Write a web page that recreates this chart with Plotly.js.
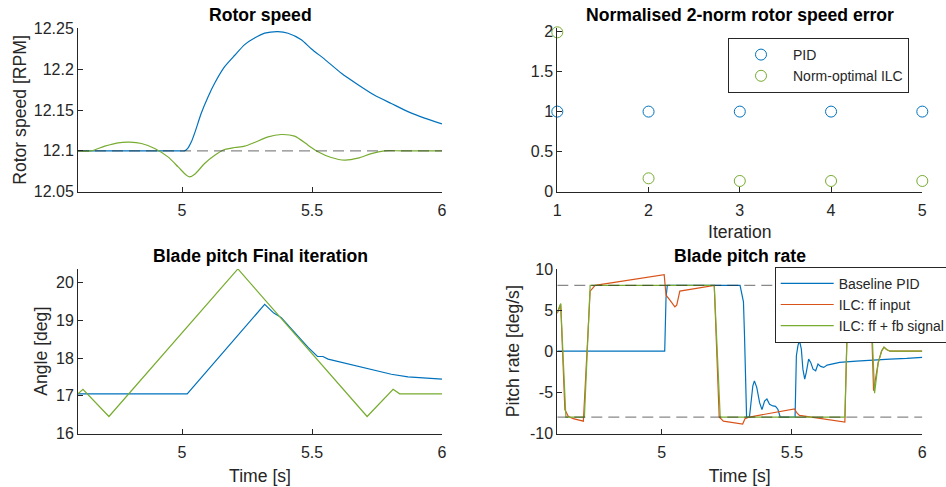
<!DOCTYPE html>
<html>
<head>
<meta charset="utf-8">
<script src="https://cdn.plot.ly/plotly-3.0.1.min.js"></script>
<style>html,body{margin:0;padding:0;background:#fff;}#chart{width:946px;height:487px;}</style>
</head>
<body>
<div id="chart"></div>
<script>
// ---------- Data ----------
// Rotor speed [RPM]
const rotorTimePID = [4.6, 4.9, 4.98, 5.010, 5.022, 5.036, 5.049, 5.074, 5.100, 5.126, 5.164, 5.203, 5.241, 5.279, 5.318, 5.369, 5.408, 5.459, 5.497, 5.549, 5.613, 5.677, 5.741, 5.805, 5.869, 5.933, 6.0];
const rotorPID     = [12.1, 12.1, 12.1, 12.1, 12.103, 12.111, 12.122, 12.146, 12.166, 12.183, 12.203, 12.217, 12.230, 12.238, 12.244, 12.246, 12.244, 12.236, 12.225, 12.212, 12.195, 12.181, 12.168, 12.158, 12.148, 12.140, 12.133];
const rotorTimeILC = [4.6, 4.651, 4.703, 4.754, 4.799, 4.844, 4.895, 4.946, 4.985, 5.017, 5.029, 5.049, 5.087, 5.126, 5.164, 5.203, 5.241, 5.279, 5.331, 5.382, 5.433, 5.485, 5.523, 5.574, 5.626, 5.677, 5.728, 5.779, 5.844, 6.0];
const rotorILC     = [12.1, 12.1, 12.1057, 12.1098, 12.1106, 12.109, 12.1029, 12.0926, 12.0804, 12.0702, 12.0681, 12.0714, 12.0845, 12.0946, 12.1016, 12.1041, 12.1057, 12.1102, 12.1172, 12.120, 12.118, 12.107, 12.0988, 12.0918, 12.0886, 12.091, 12.0967, 12.1, 12.1, 12.1];
const rotorRef = 12.1;

// Normalised 2-norm rotor speed error
const iterations = [1, 2, 3, 4, 5];
const normPID = [1, 1, 1, 1, 1];
const normILC = [1.99, 0.167, 0.134, 0.134, 0.134];

// Blade pitch angle [deg]
const pitchTimePID = [4.6, 5.02, 5.318, 5.353, 5.382, 5.433, 5.485, 5.521, 5.542, 5.562, 5.613, 5.677, 5.741, 5.805, 5.869, 6.0];
const pitchPID     = [17.05, 17.05, 19.42, 19.19, 19.07, 18.68, 18.28, 18.04, 18.04, 17.97, 17.89, 17.77, 17.67, 17.57, 17.50, 17.44];
const pitchTimeILC = [4.6, 4.619, 4.719, 5.215, 5.712, 5.812, 5.837, 6.0];
const pitchILC     = [17.05, 17.17, 16.45, 20.36, 16.45, 17.17, 17.05, 17.05];

// Blade pitch rate [deg/s]
const rateTimePID = [4.6, 5.012, 5.017, 5.022, 5.301, 5.307, 5.314, 5.318, 5.326, 5.337, 5.350, 5.356, 5.365, 5.376, 5.385, 5.395, 5.404, 5.414, 5.427, 5.437, 5.446, 5.455, 5.512, 5.517, 5.523, 5.529, 5.536, 5.542, 5.549, 5.555, 5.564, 5.572, 5.581, 5.591, 5.600, 5.610, 5.622, 5.635, 5.651, 5.683, 5.747, 5.812, 5.876, 5.940, 6.0];
const ratePID     = [0, 0, 6.5, 8, 8, 7.2, 6.0, 2, -8, -8, -4.2, -3.6, -4.4, -6.25, -7.1, -6.05, -5.8, -6.45, -6.65, -6.7, -7.05, -8, -8, -0.55, 0.67, 1.28, 0.26, -2.18, -3.4, -2.58, -0.96, -1.36, -2.18, -2.38, -1.57, -1.85, -1.97, -1.69, -1.57, -1.36, -1.2, -1.04, -0.96, -0.88, -0.76];
const rateTimeFF = [4.6, 4.613, 4.629, 4.642, 4.661, 4.700, 4.726, 4.733, 4.745, 5.010, 5.017, 5.032, 5.051, 5.058, 5.070, 5.202, 5.221, 5.237, 5.311, 5.320, 5.337, 5.510, 5.519, 5.529, 5.703, 5.716, 5.800, 5.813, 5.831, 5.844, 5.853, 5.863, 5.876, 6.0];
const rateFF     = [4.6, 5.7, -7.1, -7.9, -8.2, -8.5, 7.3, 7.6, 8.0, 9.3, 6.8, 6.2, 5.4, 5.6, 7.3, 8.0, -8.0, -8.5, -8.85, -8.2, -8.0, -7.0, -7.5, -7.8, -8.6, 8.0, 8.6, -4.8, -1.36, 0.06, 0.5, 0.2, 0.0, 0.0];
const rateTimeFB = [4.6, 4.613, 4.633, 4.704, 4.726, 5.202, 5.225, 5.703, 5.716, 5.800, 5.817, 5.831, 5.844, 5.853, 5.863, 5.876, 6.0];
const rateFB     = [4.7, 5.8, -8, -8, 8, 8, -8, -8, 8, 8, -5.1, -1.4, 0.0, 0.5, 0.2, 0.0, 0.0];
const rateLimit = 8;
const timeSpan = [4.6, 6];

// ---------- Style ----------
const FONT = '"Liberation Sans", Arial, Helvetica, sans-serif';
const BLUE = '#0072BD', ORANGE = '#D95319', GREEN = '#77AC30';
const DASH = 'rgba(38,38,38,0.55)';
const LW = 1.2;

const traces = [
  // Rotor speed
  {x: rotorTimePID, y: rotorPID, xaxis: 'x', yaxis: 'y', mode: 'lines', line: {color: BLUE, width: LW, shape: 'spline', smoothing: 0.6}, showlegend: false},
  {x: rotorTimeILC, y: rotorILC, xaxis: 'x', yaxis: 'y', mode: 'lines', line: {color: GREEN, width: LW, shape: 'spline', smoothing: 0.8}, showlegend: false},
  {x: timeSpan, y: [rotorRef, rotorRef], xaxis: 'x', yaxis: 'y', mode: 'lines', line: {color: DASH, width: 1.3, dash: '11px,6px'}, showlegend: false},
  // Norm error
  {x: iterations, y: normPID, xaxis: 'x2', yaxis: 'y2', mode: 'markers', name: 'PID', cliponaxis: false,
   marker: {symbol: 'circle-open', size: 11, color: BLUE, line: {width: 1, color: BLUE}}, legend: 'legend'},
  {x: iterations, y: normILC, xaxis: 'x2', yaxis: 'y2', mode: 'markers', name: 'Norm-optimal ILC', cliponaxis: false,
   marker: {symbol: 'circle-open', size: 11, color: GREEN, line: {width: 1, color: GREEN}}, legend: 'legend'},
  // Blade pitch
  {x: pitchTimePID, y: pitchPID, xaxis: 'x3', yaxis: 'y3', mode: 'lines', line: {color: BLUE, width: LW}, showlegend: false},
  {x: pitchTimeILC, y: pitchILC, xaxis: 'x3', yaxis: 'y3', mode: 'lines', line: {color: GREEN, width: LW}, showlegend: false},
  // Pitch rate
  {x: rateTimePID, y: ratePID, xaxis: 'x4', yaxis: 'y4', mode: 'lines', name: 'Baseline PID', line: {color: BLUE, width: LW}, legend: 'legend2'},
  {x: rateTimeFF, y: rateFF, xaxis: 'x4', yaxis: 'y4', mode: 'lines', name: 'ILC: ff input', line: {color: ORANGE, width: LW}, legend: 'legend2'},
  {x: rateTimeFB, y: rateFB, xaxis: 'x4', yaxis: 'y4', mode: 'lines', name: 'ILC: ff + fb signal', line: {color: GREEN, width: LW}, legend: 'legend2'},
  {x: timeSpan, y: [rateLimit, rateLimit], xaxis: 'x4', yaxis: 'y4', mode: 'lines', line: {color: DASH, width: 1.3, dash: '11px,6px'}, showlegend: false},
  {x: timeSpan, y: [-rateLimit, -rateLimit], xaxis: 'x4', yaxis: 'y4', mode: 'lines', line: {color: DASH, width: 1.3, dash: '11px,6px'}, showlegend: false}
];

const ax = {
  showline: true, linecolor: '#262626', linewidth: 1, mirror: false,
  ticks: 'inside', ticklen: 5, tickcolor: '#262626', tickwidth: 1,
  tickfont: {family: FONT, size: 16, color: '#262626'},
  showgrid: false, zeroline: false, fixedrange: true
};
const xax = Object.assign({}, ax, {ticklabelstandoff: 4});
const ttl = (t, s) => ({text: t, standoff: s, font: {family: FONT, size: 17.6, color: '#262626'}});

const LEFT = [78 / 946, 442 / 946];
const RIGHT = [557.3 / 946, 922.3 / 946];
const TOP = [1 - 191.7 / 487, 1 - 28.3 / 487];
const BOT = [1 - 433.5 / 487, 1 - 268.9 / 487];

const layout = {
  width: 946, height: 487,
  margin: {l: 0, r: 0, t: 0, b: 0, autoexpand: false},
  paper_bgcolor: '#fff', plot_bgcolor: 'rgba(0,0,0,0)',
  font: {family: FONT, color: '#262626'},
  xaxis: Object.assign({}, xax, {domain: LEFT, anchor: 'y', range: timeSpan, tickvals: [5, 5.5, 6], ticktext: ['5', '5.5', '6']}),
  yaxis: Object.assign({}, ax, {domain: TOP, anchor: 'x', range: [12.05, 12.25], tickvals: [12.05, 12.1, 12.15, 12.2, 12.25], ticktext: ['12.05', '12.1', '12.15', '12.2', '12.25'], title: ttl('Rotor speed [RPM]', 2)}),
  xaxis2: Object.assign({}, xax, {domain: RIGHT, anchor: 'y2', range: [1, 5], tickvals: [1, 2, 3, 4, 5], ticktext: ['1', '2', '3', '4', '5'], title: ttl('Iteration', 7)}),
  yaxis2: Object.assign({}, ax, {domain: TOP, anchor: 'x2', range: [0, 2.04], tickvals: [0, 0.5, 1, 1.5, 2], ticktext: ['0', '0.5', '1', '1.5', '2']}),
  xaxis3: Object.assign({}, xax, {domain: LEFT, anchor: 'y3', range: timeSpan, tickvals: [5, 5.5, 6], ticktext: ['5', '5.5', '6'], title: ttl('Time [s]', 9)}),
  yaxis3: Object.assign({}, ax, {domain: BOT, anchor: 'x3', range: [16, 20.36], tickvals: [16, 17, 18, 19, 20], ticktext: ['16', '17', '18', '19', '20'], title: ttl('Angle [deg]', 3)}),
  xaxis4: Object.assign({}, xax, {domain: RIGHT, anchor: 'y4', range: timeSpan, tickvals: [5, 5.5, 6], ticktext: ['5', '5.5', '6'], title: ttl('Time [s]', 9)}),
  yaxis4: Object.assign({}, ax, {domain: BOT, anchor: 'x4', range: [-10, 10], tickvals: [-10, -5, 0, 5, 10], ticktext: ['-10', '-5', '0', '5', '10'], title: ttl('Pitch rate [deg/s]', 5)}),
  legend: {x: 728 / 946, y: 1 - 38 / 487, xanchor: 'left', yanchor: 'top', bgcolor: '#fff', bordercolor: '#262626', borderwidth: 1,
           font: {family: FONT, size: 14, color: '#262626'}, itemwidth: 54, tracegroupgap: 0},
  legend2: {x: 774.7 / 946, y: 1 - 266.7 / 487, xanchor: 'left', yanchor: 'top', bgcolor: '#fff', bordercolor: '#262626', borderwidth: 1,
           font: {family: FONT, size: 14, color: '#262626'}, itemwidth: 53, tracegroupgap: 0},
  annotations: [
    {text: '<b>Rotor speed</b>', x: (LEFT[0] + LEFT[1]) / 2, y: 1 - 15 / 487, xref: 'paper', yref: 'paper', xanchor: 'center', yanchor: 'middle', showarrow: false, font: {family: FONT, size: 17.6, color: '#000'}},
    {text: '<b>Normalised 2-norm rotor speed error</b>', x: (RIGHT[0] + RIGHT[1]) / 2, y: 1 - 15 / 487, xref: 'paper', yref: 'paper', xanchor: 'center', yanchor: 'middle', showarrow: false, font: {family: FONT, size: 17.6, color: '#000'}},
    {text: '<b>Blade pitch Final iteration</b>', x: (LEFT[0] + LEFT[1]) / 2, y: 1 - 256 / 487, xref: 'paper', yref: 'paper', xanchor: 'center', yanchor: 'middle', showarrow: false, font: {family: FONT, size: 17.6, color: '#000'}},
    {text: '<b>Blade pitch rate</b>', x: (RIGHT[0] + RIGHT[1]) / 2, y: 1 - 256 / 487, xref: 'paper', yref: 'paper', xanchor: 'center', yanchor: 'middle', showarrow: false, font: {family: FONT, size: 17.6, color: '#000'}}
  ]
};

Plotly.newPlot('chart', traces, layout, {displayModeBar: false, staticPlot: true});
</script>
</body>
</html>
